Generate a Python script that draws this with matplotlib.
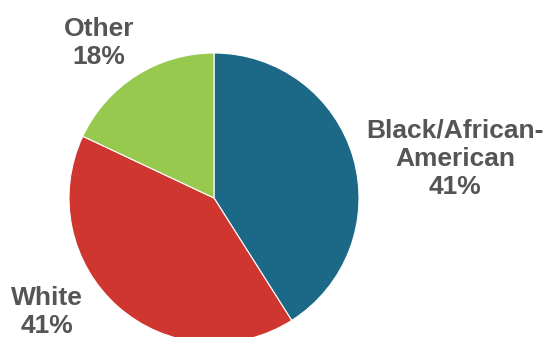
import matplotlib
matplotlib.use("Agg")
import matplotlib.pyplot as plt

categories = ["Black/African-\nAmerican", "White", "Other"]
values = [41, 41, 18]
colors = ["#1B6887", "#CF3630", "#98C94F"]

W, H = 544, 337
fig = plt.figure(figsize=(W / 100, H / 100), dpi=100)
ax = fig.add_axes([0, 0, 1, 1])
ax.set_xlim(0, W)
ax.set_ylim(0, H)
ax.set_aspect("equal")
ax.axis("off")

cx, cy, r = 214, H - 198, 145
ax.pie(values, colors=colors, startangle=90, counterclock=False,
       center=(cx, cy), radius=r, frame=True,
       wedgeprops=dict(edgecolor="white", linewidth=0.8))
ax.set_xlim(0, W)
ax.set_ylim(0, H)
ax.axis("off")

label_pos = [(455, H - 159), (47, H - 312), (99, H - 43)]
for cat, v, (x, y) in zip(categories, values, label_pos):
    ax.text(x, y, f"{cat}\n{v}%", ha="center", va="center",
            fontsize=19, fontweight="bold", color="#555555",
            family="Liberation Sans", linespacing=1.22)

fig.savefig("out.png", dpi=100)
